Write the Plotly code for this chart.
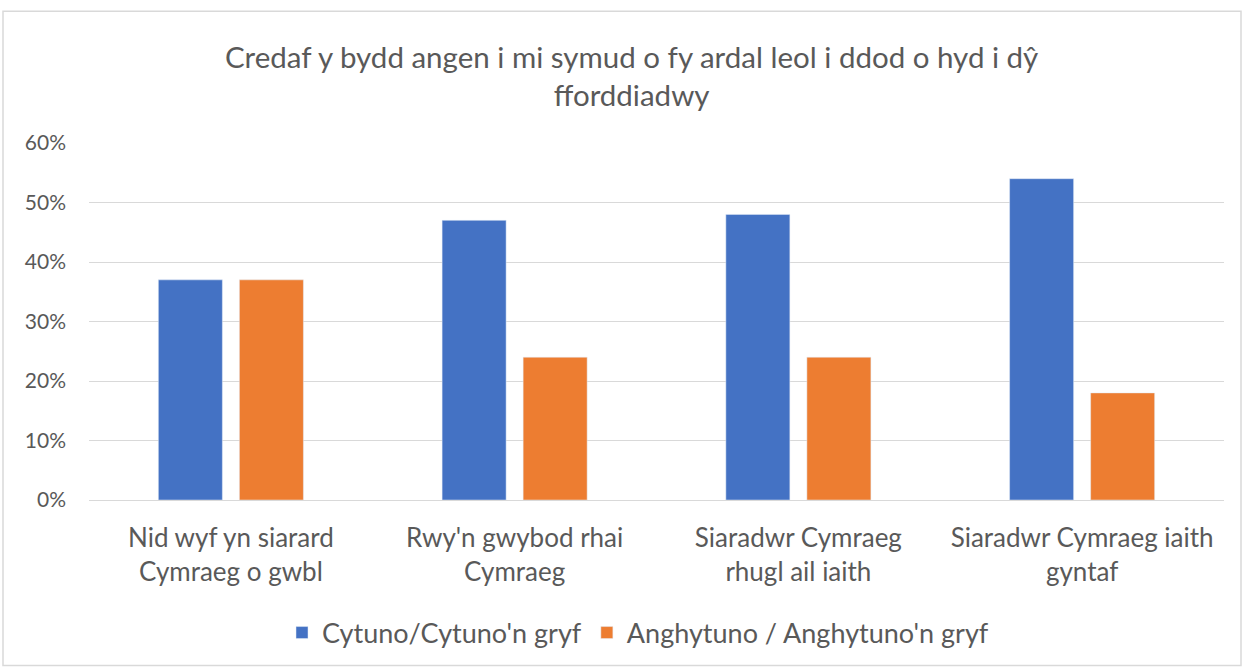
import plotly.graph_objects as go

categories = ["Nid wyf yn siarard<br>Cymraeg o gwbl", "Rwy'n gwybod rhai<br>Cymraeg",
              "Siaradwr Cymraeg<br>rhugl ail iaith", "Siaradwr Cymraeg iaith<br>gyntaf"]
series_names = ["Cytuno/Cytuno'n gryf", "Anghytuno / Anghytuno'n gryf"]
agree = [37, 47, 48, 54]
disagree = [37, 24, 24, 18]
y_ticks = [0, 10, 20, 30, 40, 50, 60]
y_tick_text = ["0%", "10%", "20%", "30%", "40%", "50%", "60%"]
title = "Credaf y bydd angen i mi symud o fy ardal leol i ddod o hyd i dŷ<br>fforddiadwy"

FONT = "Lato"
fig = go.Figure()
fig.add_trace(go.Bar(x=categories, y=agree, name=series_names[0], marker_color="#4472C4",
                     width=0.2256, offset=-0.2556))
fig.add_trace(go.Bar(x=categories, y=disagree, name=series_names[1], marker_color="#ED7D31",
                     width=0.2256, offset=0.03))

W, H = 1242, 668
L, R, T, B = 89, 1224, 143, 501
def px(x): return (x - L) / (R - L)
def py(y): return (B - y) / (B - T)

fig.update_layout(
    width=W, height=H,
    margin=dict(l=L, r=W - R, t=T, b=H - B, pad=0),
    paper_bgcolor="white", plot_bgcolor="white",
    barmode="group",
    font=dict(family=FONT, color="#595959"),
    showlegend=True,
    legend=dict(orientation="h", x=px(638), xanchor="center", y=py(633), yanchor="middle",
                font=dict(size=27, color="#595959"), itemwidth=30, tracegroupgap=0),
    xaxis=dict(showgrid=False, showline=False, ticks="", tickfont=dict(size=26, color="#595959"),
               ticklabelstandoff=20),
    yaxis=dict(range=[0, 60], tickvals=y_ticks, ticktext=y_tick_text, showgrid=True, gridcolor="#D9D9D9",
               gridwidth=1, zeroline=True, zerolinecolor="#D9D9D9", zerolinewidth=1,
               tickfont=dict(size=21, color="#595959"), ticklabelstandoff=22),
    shapes=[dict(type="rect", xref="paper", yref="paper", x0=px(3), x1=px(1241), y0=py(667), y1=py(11),
                 line=dict(color="#D9D9D9", width=1.5), fillcolor="rgba(0,0,0,0)", layer="below")],
    annotations=[dict(text=title, xref="paper", yref="paper", x=px(631), y=py(75), xanchor="center",
                      yanchor="middle", showarrow=False, font=dict(size=29.5, color="#595959", family=FONT))],
)
fig.write_html("out.html", config={"displayModeBar": False},
               post_script="document.body.style.margin='0';")
